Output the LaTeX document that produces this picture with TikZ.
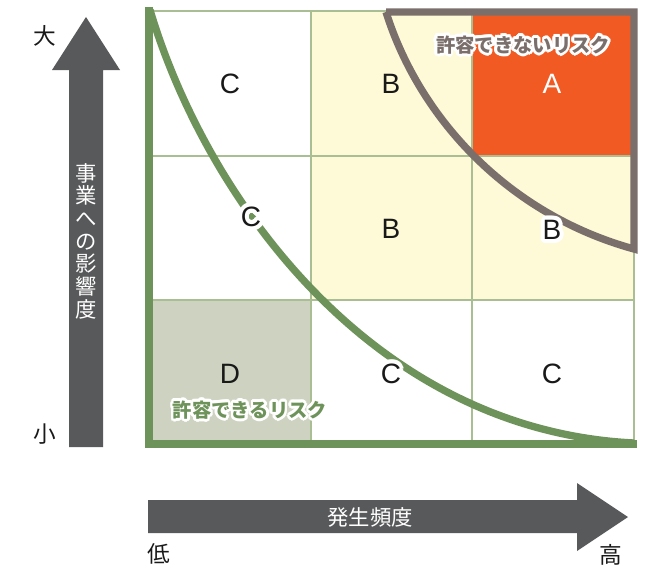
\documentclass[tikz,border=0pt]{standalone}
\usepackage{fontspec}
\setmainfont{Liberation Sans}
\newfontfamily\jp{Noto Sans CJK JP}
\usetikzlibrary{calc}
\definecolor{gridgreen}{HTML}{A9BE92}
\definecolor{curvegreen}{HTML}{6E935A}
\definecolor{framegray}{HTML}{7B6F6B}
\definecolor{cellyellow}{HTML}{FEF9D6}
\definecolor{cellorange}{HTML}{F15A22}
\definecolor{cellgray}{HTML}{CDD3C0}
\definecolor{arrowgray}{HTML}{58595B}
\newcommand\halotext[5]{% name, position, style, radius, text
  \foreach \a in {0,22.5,...,337.5}{\node[#3,text=white] at ($(#2)+(\a:#4)$) {#5};}
  \node[#3] (#1) at (#2) {#5};}
\tikzset{
  gridline/.style={draw=gridgreen,line width=1.5pt},
  letter/.style={inner sep=0pt,font=\fontsize{21}{21}\selectfont,text=black!90},
  jplabel/.style={inner sep=0pt,font=\jp\bfseries\fontsize{14.5}{14.5}\selectfont},
  endlabel/.style={inner sep=0pt,font=\jp\fontsize{17}{17}\selectfont,text=black!90},
  axistext/.style={inner sep=0pt,text=white,align=center,font=\jp\fontsize{16}{17}\selectfont},
}
\begin{document}
\begin{tikzpicture}[x=0.75pt,y=-0.75pt]
\useasboundingbox (0,0) rectangle (652,567);
% cells
\fill[cellyellow] (311,11) rectangle (634,300);
\fill[cellorange] (472,11) rectangle (634,156);
\fill[cellgray] (150,300) rectangle (311,444);
% grid
\draw[gridline] (150,11) rectangle (634,444);
\draw[gridline] (311,11) -- (311,444);
\draw[gridline] (472,11) -- (472,444);
\draw[gridline] (150,156) -- (634,156);
\draw[gridline] (150,300) -- (634,300);
% gray frame (unacceptable risk)
\draw[framegray,line width=5.5pt,line join=miter]
  (386,12) -- (634,12) -- (634,249) .. controls (510,215) and (420,120) .. (386,12);
% green curve and axes
\draw[curvegreen,line width=5.5pt] (150,10) .. controls (205,195) and (370,430) .. (634,443);
\draw[curvegreen,line width=6pt] (149,7) -- (149,444) -- (637,444);
% cell labels
\node[letter] (c11) at (230,84) {C};
\node[letter] (b12) at (391,84) {B};
\node[letter,text=white] (a13) at (552,84) {A};
\halotext{c21}{251,217}{letter}{3pt}{C}
\node[letter] (b22) at (391,229) {B};
\halotext{b23}{552,230}{letter}{3pt}{B}
\node[letter] (d31) at (230,374) {D};
\halotext{c32}{391,374}{letter}{3pt}{C}
\node[letter] (c33) at (552,374) {C};
% region labels
\halotext{ng}{523,45}{jplabel,text=framegray}{2pt}{許容できないリスク}
\halotext{ok}{250,410}{jplabel,text=curvegreen}{2pt}{許容できるリスク}
% vertical arrow
\fill[arrowgray] (69,447) -- (69,70) -- (52,70) -- (86,17) -- (120,70) -- (103,70) -- (103,447) -- cycle;
\node[axistext] (impact) at (86,241) {事\\業\\へ\\の\\影\\響\\度};
\node[endlabel] (big) at (45,36) {大};
\node[endlabel] (small) at (45,434) {小};
% horizontal arrow
\fill[arrowgray] (148,500) -- (577,500) -- (577,483) -- (628,517) -- (577,551) -- (577,533) -- (148,533) -- cycle;
\node[axistext] (freq) at (370,517) {発生頻度};
\node[endlabel] (low) at (159,554) {低};
\node[endlabel] (high) at (611,555) {高};
\end{tikzpicture}
\end{document}
